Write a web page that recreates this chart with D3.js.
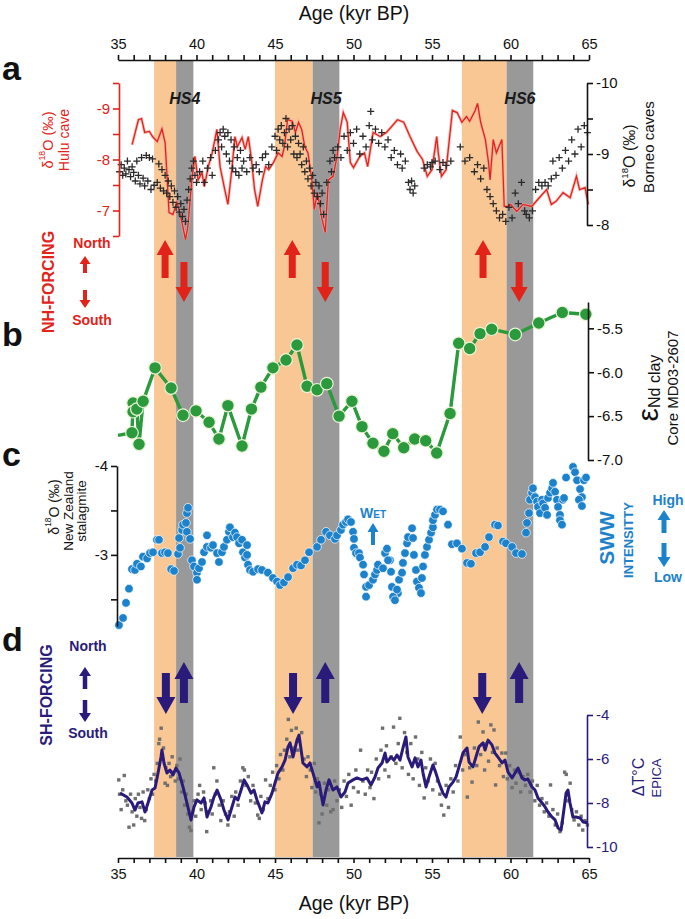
<!DOCTYPE html>
<html>
<head>
<meta charset="utf-8">
<script src="https://cdn.jsdelivr.net/npm/d3@7"></script>
<style>
  body { margin: 0; background: #fff; }
  text { font-family: "Liberation Sans", Arial, sans-serif; }
</style>
</head>
<body>
<script>
// ---- data ----
var orangeBands = [[37.3, 38.7], [45.0, 47.4], [56.9, 59.75]];
var grayBands = [[38.7, 39.8], [47.4, 49.1], [59.75, 61.45]];
var hsLabels = ["HS4", "HS5", "HS6"];

var nhArrows = [[38.0, "up"], [39.2, "down"], [46.1, "up"], [48.2, "down"], [58.25, "up"], [60.55, "down"]];
var shArrows = [[38.05, "down"], [39.2, "up"], [46.15, "down"], [48.2, "up"], [58.2, "down"], [60.55, "up"]];

var hulu = [[35.9,-8.29],[36.3,-8.78],[36.5,-8.8],[36.7,-8.53],[37.0,-8.55],[37.2,-8.45],[37.5,-8.35],[37.8,-8.6],[38.0,-8.33],[38.1,-7.8],[38.25,-6.96],[38.5,-6.92],[38.75,-7.16],[38.95,-6.95],[39.3,-6.43],[39.45,-6.69],[39.7,-7.6],[39.9,-8.06],[40.1,-7.6],[40.35,-7.74],[40.5,-7.47],[40.75,-7.86],[41.0,-8.13],[41.3,-8.59],[41.5,-7.86],[41.8,-7.41],[42.0,-7.12],[42.25,-7.8],[42.45,-8.45],[42.6,-8.25],[42.9,-8.43],[43.1,-8.2],[43.3,-8.45],[43.5,-8.0],[43.7,-7.41],[43.9,-7.08],[44.2,-7.6],[44.4,-7.86],[44.6,-7.8],[44.9,-7.94],[45.2,-8.13],[45.45,-8.06],[45.6,-8.25],[45.8,-8.78],[46.1,-8.75],[46.3,-8.53],[46.5,-8.73],[46.7,-8.59],[46.9,-8.25],[47.1,-8.13],[47.35,-7.6],[47.5,-7.02],[47.7,-7.35],[48.0,-6.82],[48.2,-6.57],[48.4,-7.6],[48.7,-7.67],[48.95,-8.06],[49.15,-8.59],[49.35,-8.92],[49.6,-8.73],[49.8,-7.94],[50.0,-7.84],[50.4,-8.06],[50.7,-8.13],[50.9,-7.86],[51.25,-8.53],[51.7,-8.45],[52.1,-8.53],[52.8,-8.78],[53.2,-8.73],[53.6,-8.45],[54.05,-8.16],[54.4,-8.0],[54.7,-7.67],[55.0,-7.8],[55.3,-8.45],[55.4,-8.13],[55.6,-7.67],[55.9,-7.8],[56.3,-8.96],[56.6,-8.92],[56.9,-8.73],[57.2,-8.84],[57.4,-8.75],[57.75,-8.96],[57.9,-9.1],[58.1,-8.73],[58.4,-8.39],[58.6,-7.94],[58.7,-7.6],[58.9,-8.39],[59.1,-8.13],[59.45,-8.39],[59.6,-7.08],[59.8,-7.08],[60.0,-7.12],[60.4,-6.98],[60.8,-7.12],[61.35,-7.08],[61.75,-7.22],[62.3,-7.41],[62.6,-7.12],[62.9,-7.18],[63.35,-7.35],[63.8,-7.25],[64.2,-7.67],[64.4,-7.41],[64.75,-7.45],[64.95,-7.12]];

var borneo = [[35.1,-8.75],[35.2,-8.85],[35.3,-8.7],[35.4,-8.8],[35.5,-8.72],[35.6,-8.9],[35.7,-8.78],[35.8,-8.68],[35.9,-8.82],[36.0,-8.74],[36.1,-8.62],[36.2,-8.9],[36.3,-8.7],[36.4,-8.58],[36.5,-8.95],[36.6,-8.66],[36.7,-8.55],[36.8,-8.98],[36.9,-8.62],[37.0,-8.95],[37.1,-8.5],[37.2,-8.93],[37.3,-8.56],[37.5,-8.6],[37.6,-8.86],[37.7,-8.52],[37.8,-8.78],[37.9,-8.48],[38.0,-8.7],[38.1,-8.45],[38.2,-8.62],[38.3,-8.4],[38.4,-8.55],[38.5,-8.32],[38.6,-8.48],[38.7,-8.25],[38.8,-8.4],[38.9,-8.18],[39.0,-8.3],[39.1,-8.12],[39.2,-8.22],[39.3,-8.05],[39.4,-8.35],[39.5,-8.5],[39.6,-8.65],[39.7,-8.8],[39.8,-8.9],[39.9,-8.7],[40.0,-8.6],[40.2,-8.75],[40.4,-8.9],[40.5,-8.6],[40.7,-8.8],[40.9,-8.95],[41.0,-8.7],[41.2,-9.05],[41.4,-9.2],[41.5,-9.3],[41.6,-9.1],[41.7,-9.35],[41.8,-9.25],[41.9,-9.0],[42.0,-9.3],[42.1,-8.9],[42.2,-9.2],[42.3,-8.8],[42.4,-9.1],[42.5,-8.75],[42.6,-8.95],[42.7,-8.7],[42.8,-9.05],[42.9,-8.8],[43.0,-8.9],[43.2,-8.75],[43.4,-8.95],[43.6,-8.8],[43.8,-8.85],[44.0,-8.75],[44.2,-8.95],[44.4,-9.0],[44.6,-8.85],[44.8,-9.1],[45.0,-9.25],[45.1,-9.05],[45.2,-9.35],[45.3,-9.2],[45.4,-9.4],[45.5,-9.15],[45.6,-9.3],[45.7,-9.5],[45.8,-9.1],[45.9,-9.35],[46.0,-9.2],[46.1,-9.4],[46.2,-9.0],[46.3,-9.25],[46.4,-8.95],[46.5,-9.15],[46.6,-9.0],[46.7,-8.85],[46.8,-9.1],[46.9,-8.75],[47.0,-8.9],[47.1,-8.65],[47.2,-8.8],[47.3,-8.55],[47.4,-8.7],[47.5,-8.45],[47.6,-8.6],[47.7,-8.4],[47.8,-8.55],[47.9,-8.3],[48.0,-8.45],[48.1,-8.15],[48.3,-8.6],[48.5,-8.9],[48.6,-8.75],[48.7,-9.05],[48.8,-8.95],[49.0,-9.1],[49.2,-8.95],[49.4,-9.25],[49.6,-9.05],[49.8,-9.3],[50.0,-9.15],[50.2,-9.35],[50.4,-9.0],[50.6,-9.25],[50.8,-9.1],[51.0,-9.4],[51.1,-9.6],[51.2,-9.2],[51.4,-9.35],[51.6,-9.15],[51.8,-9.3],[52.0,-9.1],[52.2,-9.2],[52.4,-8.95],[52.6,-9.05],[52.8,-8.85],[53.0,-9.0],[53.1,-8.8],[53.3,-8.9],[53.5,-8.6],[53.6,-8.5],[53.7,-8.62],[53.8,-8.45],[53.9,-8.55],[54.5,-8.8],[54.7,-8.85],[54.9,-8.82],[55.0,-8.88],[55.2,-8.9],[55.5,-8.78],[55.7,-8.88],[55.9,-8.84],[56.2,-8.9],[56.8,-9.1],[57.1,-8.9],[57.4,-8.95],[57.7,-8.75],[57.9,-8.85],[58.1,-8.65],[58.3,-8.8],[58.5,-8.5],[58.7,-8.4],[58.9,-8.3],[59.1,-8.2],[59.3,-8.1],[59.5,-8.15],[59.7,-8.05],[59.9,-8.25],[60.1,-8.1],[60.3,-8.45],[60.5,-8.3],[60.7,-8.6],[60.9,-8.2],[61.0,-8.15],[61.2,-8.1],[61.4,-8.2],[61.6,-8.5],[61.8,-8.6],[62.0,-8.55],[62.2,-8.6],[62.4,-8.55],[62.6,-8.65],[62.7,-8.9],[62.9,-8.7],[63.1,-8.95],[63.3,-8.8],[63.5,-9.05],[63.7,-8.9],[63.9,-9.2],[64.1,-9.0],[64.3,-9.35],[64.5,-9.1],[64.7,-9.4],[64.9,-9.3]];

var epsNd = [[35.0,-6.72],[35.89,-6.69],[35.96,-6.35],[35.96,-6.45],[36.2,-6.42],[36.34,-6.82],[36.6,-6.33],[37.36,-5.95],[38.38,-6.18],[39.14,-6.49],[39.97,-6.44],[40.8,-6.57],[41.43,-6.76],[42.0,-6.38],[42.9,-6.84],[43.5,-6.42],[44.1,-6.17],[44.87,-5.95],[45.7,-5.86],[46.4,-5.69],[47.04,-6.16],[47.68,-6.2],[48.3,-6.13],[49.08,-6.5],[49.9,-6.33],[50.54,-6.62],[51.24,-6.81],[51.94,-6.9],[52.5,-6.7],[53.2,-6.86],[53.9,-6.76],[54.6,-6.78],[55.3,-6.92],[56.15,-6.47],[56.7,-5.67],[57.4,-5.73],[58.06,-5.56],[58.8,-5.51],[60.3,-5.57],[61.8,-5.44],[63.3,-5.32],[64.8,-5.34]];

var nzStalagmite = [[35.06,-2.21],[35.32,-2.29],[35.51,-2.46],[35.70,-2.62],[35.89,-2.84],[36.08,-2.83],[36.21,-2.90],[36.46,-2.87],[36.59,-2.98],[36.85,-2.96],[37.04,-3.02],[37.23,-3.03],[37.48,-3.17],[37.61,-3.17],[37.80,-3.02],[37.99,-3.03],[38.18,-3.02],[38.38,-2.84],[38.57,-2.82],[38.82,-3.01],[38.95,-3.08],[38.89,-3.19],[39.08,-3.28],[39.14,-3.34],[39.33,-3.36],[39.39,-3.47],[39.46,-3.53],[39.39,-3.26],[39.59,-3.18],[39.71,-2.94],[39.84,-2.87],[40.03,-2.80],[40.03,-2.72],[40.16,-2.85],[40.35,-2.92],[40.48,-3.03],[40.67,-3.09],[40.67,-3.22],[40.92,-3.08],[41.05,-3.11],[41.31,-3.02],[41.43,-2.92],[41.62,-3.03],[41.75,-3.09],[41.94,-3.17],[42.07,-3.26],[42.13,-3.31],[42.32,-3.20],[42.45,-3.25],[42.58,-3.20],[42.71,-3.13],[42.90,-3.17],[42.96,-3.03],[43.09,-2.97],[43.22,-3.11],[43.22,-3.00],[43.28,-2.89],[43.41,-2.83],[43.60,-2.81],[43.92,-2.84],[44.17,-2.83],[44.55,-2.80],[44.87,-2.74],[45.13,-2.70],[45.32,-2.66],[45.57,-2.69],[45.83,-2.75],[46.15,-2.85],[46.40,-2.89],[46.66,-2.88],[46.91,-2.94],[47.17,-3.03],[47.68,-3.09],[47.93,-3.17],[48.25,-3.26],[48.50,-3.22],[48.82,-3.18],[48.95,-3.22],[49.20,-3.28],[49.33,-3.34],[49.52,-3.37],[49.65,-3.40],[49.84,-3.37],[49.97,-3.26],[50.03,-3.18],[50.03,-3.08],[50.16,-3.02],[50.35,-3.02],[50.41,-2.97],[50.61,-2.89],[50.67,-2.78],[50.80,-2.64],[50.80,-2.53],[50.99,-2.66],[51.24,-2.72],[51.37,-2.78],[51.50,-2.83],[51.56,-2.89],[51.88,-2.85],[52.01,-3.02],[52.13,-3.07],[52.32,-2.94],[52.39,-2.81],[52.45,-2.64],[52.64,-2.53],[52.83,-2.57],[52.20,-2.94],[52.52,-2.53],[52.64,-2.49],[52.77,-2.61],[52.90,-2.72],[53.09,-2.80],[53.15,-2.91],[53.28,-3.02],[53.41,-3.13],[53.47,-3.20],[53.73,-3.30],[53.79,-3.19],[53.85,-3.00],[53.98,-2.83],[54.04,-2.70],[54.17,-2.63],[54.30,-2.57],[54.36,-2.74],[54.43,-2.87],[54.55,-3.00],[54.68,-3.09],[54.81,-3.17],[54.94,-3.25],[55.06,-3.31],[55.06,-3.39],[55.19,-3.45],[55.32,-3.51],[55.51,-3.51],[55.70,-3.49],[56.02,-3.34],[56.27,-3.12],[56.59,-3.13],[56.91,-3.07],[57.23,-2.91],[57.48,-2.90],[57.80,-3.02],[58.06,-3.03],[58.38,-3.09],[58.63,-3.20],[59.01,-3.34],[59.20,-3.33],[59.52,-3.15],[59.71,-3.13],[60.10,-3.09],[60.35,-3.02],[60.73,-3.01],[60.99,-3.25],[61.05,-3.36],[61.18,-3.47],[61.24,-3.62],[61.37,-3.70],[61.43,-3.75],[61.56,-3.65],[61.69,-3.60],[61.75,-3.54],[61.88,-3.47],[62.01,-3.62],[62.07,-3.58],[62.20,-3.53],[62.33,-3.45],[62.39,-3.64],[62.52,-3.70],[62.65,-3.75],[62.71,-3.81],[62.84,-3.71],[62.96,-3.62],[63.03,-3.54],[63.15,-3.45],[63.15,-3.39],[63.28,-3.34],[63.34,-3.62],[63.41,-3.64],[63.54,-3.87],[63.98,-3.99],[64.11,-3.93],[64.24,-3.84],[64.43,-3.74],[64.55,-3.65],[64.36,-3.62],[64.55,-3.55],[64.68,-3.84],[64.81,-3.87]];

var epicaSmooth = [[35.13,-7.55],[35.57,-7.73],[35.89,-8.0],[36.08,-8.32],[36.27,-8.0],[36.53,-7.95],[36.72,-8.41],[36.91,-8.0],[37.17,-7.41],[37.36,-7.32],[37.55,-6.64],[37.74,-5.91],[37.80,-5.59],[37.93,-6.18],[38.12,-6.64],[38.31,-6.5],[38.50,-6.73],[38.69,-6.41],[38.89,-6.64],[39.14,-7.27],[39.39,-8.0],[39.65,-8.77],[39.84,-8.18],[40.03,-7.86],[40.29,-8.0],[40.48,-7.77],[40.67,-8.64],[40.92,-8.18],[41.11,-7.73],[41.31,-7.41],[41.56,-7.86],[41.75,-8.32],[42.01,-8.77],[42.26,-8.18],[42.45,-7.73],[42.64,-7.86],[42.90,-7.27],[43.03,-6.95],[43.22,-7.18],[43.47,-7.55],[43.66,-7.41],[43.85,-7.86],[44.17,-8.45],[44.36,-7.95],[44.55,-8.0],[44.81,-7.55],[45.00,-7.09],[45.19,-6.64],[45.45,-6.36],[45.64,-6.05],[45.83,-5.45],[45.96,-5.27],[46.15,-5.91],[46.40,-5.14],[46.53,-4.91],[46.78,-6.18],[47.04,-6.36],[47.23,-6.18],[47.42,-6.64],[47.68,-7.27],[47.80,-7.05],[48.06,-8.09],[48.25,-7.41],[48.44,-6.95],[48.69,-7.41],[48.95,-7.27],[49.20,-7.73],[49.46,-7.5],[49.65,-7.09],[49.97,-6.95],[50.22,-6.86],[50.54,-6.95],[50.86,-6.86],[51.11,-7.18],[51.37,-6.82],[51.56,-6.41],[51.82,-6.18],[52.01,-5.73],[52.13,-6.14],[52.39,-5.91],[52.58,-6.05],[52.77,-5.82],[52.96,-6.05],[53.15,-5.5],[53.34,-5.0],[53.47,-5.91],[53.73,-6.36],[53.92,-5.95],[54.11,-6.36],[54.30,-6.05],[54.43,-6.64],[54.62,-7.27],[54.81,-6.82],[55.06,-6.27],[55.25,-6.64],[55.45,-7.09],[55.70,-7.55],[55.89,-7.73],[56.08,-7.27],[56.34,-7.05],[56.53,-6.82],[56.72,-6.36],[56.97,-5.73],[57.23,-5.5],[57.36,-6.14],[57.61,-6.36],[57.80,-5.91],[57.99,-5.45],[58.25,-5.27],[58.38,-5.59],[58.57,-5.14],[58.82,-5.36],[59.01,-5.73],[59.20,-5.91],[59.46,-6.18],[59.65,-6.05],[59.84,-6.59],[60.10,-6.86],[60.29,-6.64],[60.48,-6.41],[60.73,-6.86],[60.92,-6.95],[61.11,-6.91],[61.37,-7.27],[61.56,-7.41],[61.75,-7.77],[62.01,-8.0],[62.20,-8.18],[62.39,-8.41],[62.65,-8.64],[62.84,-8.77],[63.03,-9.14],[63.22,-9.23],[63.34,-8.64],[63.54,-7.55],[63.66,-7.41],[63.79,-8.0],[63.98,-8.64],[64.17,-8.64],[64.43,-8.68],[64.62,-8.86],[64.9,-8.9]];

var epicaRaw = [[35.05,-6.95],[35.1,-7.6],[35.2,-8.3],[35.3,-7.4],[35.4,-6.75],[35.5,-7.9],[35.6,-8.1],[35.7,-9.1],[35.8,-7.6],[35.9,-8.4],[36.0,-9.0],[36.1,-7.8],[36.2,-8.6],[36.3,-7.6],[36.4,-8.2],[36.5,-8.7],[36.6,-7.5],[36.7,-8.8],[36.8,-8.3],[36.9,-7.4],[37.0,-7.8],[37.1,-6.9],[37.2,-7.6],[37.3,-6.7],[37.4,-7.0],[37.5,-6.2],[37.6,-5.3],[37.65,-5.1],[37.75,-4.6],[37.8,-6.0],[37.9,-5.5],[38.0,-7.1],[38.05,-6.4],[38.15,-7.2],[38.25,-6.2],[38.35,-6.8],[38.45,-5.9],[38.55,-6.6],[38.65,-7.0],[38.75,-6.3],[38.85,-6.9],[38.95,-6.0],[39.05,-7.5],[39.15,-7.0],[39.25,-8.1],[39.35,-7.6],[39.45,-8.5],[39.55,-9.1],[39.65,-9.25],[39.75,-8.4],[39.85,-7.9],[39.95,-8.6],[40.1,-7.6],[40.2,-7.2],[40.3,-8.3],[40.45,-7.5],[40.55,-8.0],[40.65,-9.3],[40.75,-8.4],[40.9,-7.9],[41.0,-8.5],[41.1,-6.4],[41.2,-7.6],[41.3,-7.0],[41.45,-8.1],[41.55,-8.8],[41.7,-7.9],[41.85,-8.5],[42.0,-9.0],[42.1,-8.4],[42.25,-7.7],[42.4,-8.6],[42.5,-7.5],[42.65,-8.1],[42.8,-7.0],[42.95,-6.4],[43.05,-6.5],[43.15,-7.2],[43.3,-6.8],[43.45,-7.9],[43.6,-7.2],[43.75,-8.0],[43.9,-8.55],[44.0,-8.7],[44.1,-7.7],[44.25,-8.3],[44.4,-6.95],[44.55,-7.8],[44.7,-7.2],[44.85,-6.6],[45.0,-7.4],[45.1,-6.3],[45.25,-6.9],[45.35,-5.8],[45.5,-6.5],[45.6,-5.6],[45.75,-5.1],[45.85,-4.2],[45.95,-5.9],[46.05,-4.7],[46.2,-5.5],[46.35,-4.6],[46.45,-5.6],[46.55,-5.2],[46.7,-4.8],[46.85,-6.0],[47.0,-6.8],[47.1,-5.9],[47.25,-6.5],[47.35,-7.3],[47.5,-6.2],[47.6,-7.5],[47.7,-6.9],[47.8,-8.9],[47.9,-7.6],[48.0,-8.5],[48.15,-7.1],[48.3,-8.1],[48.4,-7.4],[48.55,-8.4],[48.7,-8.3],[48.8,-7.0],[48.95,-7.9],[49.1,-7.4],[49.25,-8.2],[49.4,-7.0],[49.55,-7.7],[49.7,-6.7],[49.85,-8.1],[50.0,-7.3],[50.15,-6.5],[50.3,-7.5],[50.45,-5.6],[50.6,-7.0],[50.75,-7.6],[50.9,-6.5],[51.05,-7.3],[51.15,-6.6],[51.3,-7.8],[51.45,-6.0],[51.6,-6.9],[51.75,-5.6],[51.85,-4.6],[52.0,-6.5],[52.1,-5.4],[52.25,-6.8],[52.4,-5.9],[52.55,-4.55],[52.7,-6.2],[52.85,-5.3],[52.95,-4.15],[53.1,-6.4],[53.25,-4.8],[53.4,-5.7],[53.5,-6.7],[53.65,-5.3],[53.8,-6.9],[53.95,-5.0],[54.1,-6.0],[54.2,-7.2],[54.35,-5.7],[54.5,-7.77],[54.6,-6.4],[54.75,-7.0],[54.9,-6.0],[55.05,-7.4],[55.2,-6.2],[55.35,-7.0],[55.5,-7.6],[55.6,-8.1],[55.75,-8.55],[55.9,-7.2],[56.05,-8.2],[56.2,-6.9],[56.35,-7.5],[56.5,-6.3],[56.65,-7.0],[56.8,-5.0],[56.95,-6.5],[57.1,-5.8],[57.25,-7.73],[57.4,-6.4],[57.55,-7.05],[57.7,-5.5],[57.85,-6.3],[57.95,-4.32],[58.1,-5.8],[58.25,-4.77],[58.35,-6.5],[58.45,-5.3],[58.6,-6.1],[58.75,-4.45],[58.85,-5.7],[58.95,-4.68],[59.05,-7.18],[59.15,-5.5],[59.3,-6.3],[59.45,-5.73],[59.55,-6.8],[59.7,-5.73],[59.8,-6.9],[59.95,-6.3],[60.1,-7.3],[60.25,-6.5],[60.35,-7.1],[60.5,-6.6],[60.65,-7.5],[60.8,-6.8],[60.95,-7.2],[61.1,-6.7],[61.25,-7.5],[61.4,-7.0],[61.55,-7.9],[61.7,-7.2],[61.85,-8.1],[62.0,-7.8],[62.15,-8.4],[62.3,-8.0],[62.45,-8.6],[62.55,-7.18],[62.7,-8.3],[62.85,-9.0],[63.0,-8.5],[63.15,-9.3],[63.3,-8.9],[63.45,-6.6],[63.55,-6.7],[63.65,-7.9],[63.8,-7.1],[63.9,-8.3],[64.05,-8.77],[64.2,-8.4],[64.35,-9.0],[64.5,-8.6],[64.6,-9.23],[64.75,-8.8],[64.9,-9.0]];

var ageTicks = d3.range(35, 66, 1);

// ---- colours ----
var RED = "#e2231a", GREEN = "#2a9a3c", BLUE = "#1c82cc", NAVY = "#2a1b7a";

var W = 685, H = 919;
var svg = d3.select("body").append("svg").attr("width", W).attr("height", H);

var x = d3.scaleLinear().domain([35, 65]).range([118, 589]);
var yHulu = d3.scaleLinear().domain([-9.5, -6.5]).range([83, 236]);
var yBorneo = d3.scaleLinear().domain([-10, -8]).range([83, 225]);
var yNd = d3.scaleLinear().domain([-5.2, -7.0]).range([302, 460]);
var yNZ = d3.scaleLinear().domain([-4, -2.2]).range([466, 626]);
var yEpica = d3.scaleLinear().domain([-4, -10]).range([715, 847]);

// bands
var bandTop = 61, bandBottom = 857;
svg.selectAll(".ob").data(orangeBands).enter().append("rect")
  .attr("x", d => x(d[0])).attr("width", d => x(d[1]) - x(d[0]))
  .attr("y", bandTop).attr("height", bandBottom - bandTop).attr("fill", "#f9c794");
svg.selectAll(".gb").data(grayBands).enter().append("rect")
  .attr("x", d => x(d[0])).attr("width", d => x(d[1]) - x(d[0]))
  .attr("y", bandTop).attr("height", bandBottom - bandTop).attr("fill", "#999999");

svg.selectAll(".hs").data(hsLabels).enter().append("text")
  .attr("x", (d, i) => (x(grayBands[i][0]) + x(grayBands[i][1])) / 2)
  .attr("y", 104).attr("text-anchor", "middle")
  .attr("font-size", 16).attr("font-weight", "bold").attr("font-style", "italic")
  .attr("fill", "#1a1a1a").text(d => d);

// arrows
function arrowPath(cx, tip, tail, sw, hw, hl) {
  var s = tail > tip ? 1 : -1;
  var neck = tip + s * hl;
  return "M" + (cx - sw / 2) + "," + tail + "L" + (cx - sw / 2) + "," + neck +
    "L" + (cx - hw / 2) + "," + neck + "L" + cx + "," + tip +
    "L" + (cx + hw / 2) + "," + neck + "L" + (cx + sw / 2) + "," + neck +
    "L" + (cx + sw / 2) + "," + tail + "Z";
}

svg.selectAll(".nha").data(nhArrows).enter().append("path")
  .attr("d", d => d[1] == "up" ? arrowPath(x(d[0]), 240, 278, 7, 17, 15) : arrowPath(x(d[0]), 302, 262, 7, 17, 15))
  .attr("fill", RED);
svg.selectAll(".sha").data(shArrows).enter().append("path")
  .attr("d", d => d[1] == "up" ? arrowPath(x(d[0]), 662, 703, 8, 19, 17) : arrowPath(x(d[0]), 714, 673, 8, 19, 17))
  .attr("fill", NAVY);

// ---- panel a ----
svg.append("path").datum(hulu)
  .attr("d", d3.line().x(d => x(d[0])).y(d => yHulu(d[1])))
  .attr("fill", "none").attr("stroke", "#f3a3a0").attr("stroke-width", 3).attr("opacity", 0.7);
svg.append("path").datum(hulu)
  .attr("d", d3.line().x(d => x(d[0])).y(d => yHulu(d[1])))
  .attr("fill", "none").attr("stroke", RED).attr("stroke-width", 1.3);

svg.selectAll(".bx").data(borneo).enter().append("path")
  .attr("transform", d => "translate(" + x(d[0]) + "," + yBorneo(d[1]) + ")")
  .attr("d", "M-3.5,0H3.5M0,-3.5V3.5")
  .attr("stroke", "#2a2a2a").attr("stroke-width", 1.3).attr("fill", "none");

// ---- panel b ----
svg.append("path").datum(epsNd)
  .attr("d", d3.line().x(d => x(d[0])).y(d => yNd(d[1])))
  .attr("fill", "none").attr("stroke", GREEN).attr("stroke-width", 3.4);
svg.selectAll(".nd").data(epsNd.filter(d => d[0] > 35.05)).enter().append("circle")
  .attr("cx", d => x(d[0])).attr("cy", d => yNd(d[1])).attr("r", 6.3)
  .attr("fill", GREEN).attr("stroke", "#eef3d8").attr("stroke-width", 1.2);

// ---- panel c ----
svg.selectAll(".nz").data(nzStalagmite).enter().append("circle")
  .attr("cx", d => x(d[0])).attr("cy", d => yNZ(d[1])).attr("r", 4.3)
  .attr("fill", BLUE).attr("stroke", "#ffffff").attr("stroke-width", 0.7);

// ---- panel d ----
svg.selectAll(".er").data(epicaRaw).enter().append("rect")
  .attr("x", d => x(d[0]) - 1.7).attr("y", d => yEpica(d[1]) - 1.7)
  .attr("width", 3.4).attr("height", 3.4).attr("fill", "#6f6f6f");
svg.append("path").datum(epicaSmooth)
  .attr("d", d3.line().x(d => x(d[0])).y(d => yEpica(d[1])))
  .attr("fill", "none").attr("stroke", NAVY).attr("stroke-width", 3).attr("stroke-linejoin", "round");

// ---- axes ----
function styleAxis(g, color, fs) {
  g.selectAll("path, line").attr("stroke", color).attr("stroke-width", 1.6);
  g.selectAll("text").attr("fill", color).attr("font-size", fs)
    .attr("font-family", "'Noto Sans', 'Liberation Sans', sans-serif");
}
var ageFmt = d => d % 5 === 0 ? String(d) : "";
svg.append("g").attr("transform", "translate(0,60)")
  .call(d3.axisTop(x).tickValues(ageTicks).tickFormat(ageFmt).tickSize(5).tickSizeOuter(0).tickPadding(6))
  .call(g => styleAxis(g, "#111", 14.5));
svg.append("g").attr("transform", "translate(0,858)")
  .call(d3.axisBottom(x).tickValues(ageTicks).tickFormat(ageFmt).tickSize(5).tickSizeOuter(0).tickPadding(6))
  .call(g => styleAxis(g, "#111", 14.5));

var intFmt = d => Number.isInteger(d) ? String(d) : "";
svg.append("g").attr("transform", "translate(119,0)")
  .call(d3.axisLeft(yHulu).tickValues([-9.5, -9, -8.5, -8, -7.5, -7, -6.5]).tickFormat(intFmt).tickSize(6).tickSizeOuter(0))
  .call(g => styleAxis(g, RED, 15));
svg.append("g").attr("transform", "translate(587,0)")
  .call(d3.axisRight(yBorneo).tickValues([-10, -9.5, -9, -8.5, -8]).tickFormat(intFmt).tickSize(6).tickSizeOuter(0))
  .call(g => styleAxis(g, "#111", 15));
svg.append("g").attr("transform", "translate(588,0)")
  .call(d3.axisRight(yNd).tickValues([-5.5, -6, -6.5, -7]).tickFormat(d => d.toFixed(1)).tickSize(6).tickSizeOuter(0))
  .call(g => styleAxis(g, "#111", 15));
svg.append("g").attr("transform", "translate(117,0)")
  .call(d3.axisLeft(yNZ).tickValues([-4, -3.5, -3, -2.5]).tickFormat(intFmt).tickSize(6).tickSizeOuter(0))
  .call(g => styleAxis(g, "#111", 15));
svg.append("g").attr("transform", "translate(587,0)")
  .call(d3.axisRight(yEpica).tickValues([-4, -6, -8, -10]).tickFormat(d => String(d)).tickSize(6).tickSizeOuter(0))
  .call(g => styleAxis(g, NAVY, 15));

// ---- text ----
function txt(xp, yp, s, o) {
  var t = svg.append("text").attr("x", xp).attr("y", yp)
    .attr("font-size", o.fs).attr("fill", o.color || "#111")
    .attr("text-anchor", o.anchor || "middle")
    .attr("dominant-baseline", o.base || "auto")
    .attr("font-family", o.family || "'Noto Sans', 'Liberation Sans', sans-serif");
  if (o.bold) t.attr("font-weight", "bold");
  if (o.rot) t.attr("transform", "rotate(-90," + xp + "," + yp + ")");
  t.text(s);
  return t;
}
function d18O(xp, yp, fs, color) {
  var t = svg.append("text").attr("x", xp).attr("y", yp).attr("font-size", fs).attr("fill", color)
    .attr("text-anchor", "middle").attr("dominant-baseline", "middle")
    .attr("font-family", "'Noto Sans', 'Liberation Sans', sans-serif")
    .attr("transform", "rotate(-90," + xp + "," + yp + ")");
  t.append("tspan").text("\u03b4");
  t.append("tspan").attr("font-size", fs * 0.6).attr("dy", -fs * 0.4).text("18");
  t.append("tspan").attr("dy", fs * 0.4).text("O (\u2030)");
}

txt(354, 20, "Age (kyr BP)", {fs: 19.5, family: "'Liberation Sans', Arial, sans-serif"});
txt(354, 910, "Age (kyr BP)", {fs: 19.5, family: "'Liberation Sans', Arial, sans-serif"});

var letterOpt = {fs: 34, bold: true, anchor: "start", family: "'Liberation Sans', Arial, sans-serif"};
txt(2, 80, "a", letterOpt);
txt(2, 346, "b", letterOpt);
txt(2, 466, "c", letterOpt);
txt(2, 651, "d", letterOpt);

// a labels
d18O(49, 140, 14.5, RED);
txt(65, 140, "Hulu cave", {fs: 14, color: RED, rot: true, base: "middle"});
txt(50, 282, "NH-FORCING", {fs: 16, color: RED, bold: true, rot: true, base: "middle"});
txt(92, 248, "North", {fs: 14, color: RED, bold: true});
txt(92, 325, "South", {fs: 14, color: RED, bold: true});
svg.append("path").attr("d", arrowPath(85, 256, 273, 4, 11, 8)).attr("fill", RED);
svg.append("path").attr("d", arrowPath(85, 308, 290, 4, 11, 8)).attr("fill", RED);
d18O(631, 156, 16, "#111");
txt(650, 147, "Borneo caves", {fs: 15, rot: true, base: "middle"});

// b labels
var eps = svg.append("text").attr("x", 650).attr("y", 388).attr("text-anchor", "middle")
  .attr("dominant-baseline", "middle").attr("fill", "#111")
  .attr("font-family", "'Noto Sans', 'Liberation Sans', sans-serif")
  .attr("transform", "rotate(-90,650,388)");
eps.append("tspan").attr("font-size", 30).text("\u03b5");
eps.append("tspan").attr("font-size", 16).attr("dy", 6).text("Nd clay");
txt(674, 388, "Core MD03-2607", {fs: 15, rot: true, base: "middle"});

// c labels
d18O(55, 507, 14, "#111");
txt(69, 511, "New Zealand", {fs: 13.5, rot: true, base: "middle"});
txt(82, 511, "stalagmite", {fs: 13.5, rot: true, base: "middle"});
var wet = svg.append("text").attr("x", 373).attr("y", 518).attr("text-anchor", "middle")
  .attr("fill", BLUE).attr("font-weight", "bold")
  .attr("font-family", "'Noto Sans', 'Liberation Sans', sans-serif");
wet.append("tspan").attr("font-size", 14).text("W");
wet.append("tspan").attr("font-size", 10).text("ET");
svg.append("path").attr("d", arrowPath(373, 523, 545, 4, 11, 9)).attr("fill", BLUE);
txt(608, 538, "SWW", {fs: 21, color: BLUE, bold: true, rot: true, base: "middle"});
txt(630, 540, "INTENSITTY", {fs: 13, color: BLUE, bold: true, rot: true, base: "middle"});
txt(668, 505, "High", {fs: 14, color: BLUE, bold: true});
txt(668, 582, "Low", {fs: 14, color: BLUE, bold: true});
svg.append("path").attr("d", arrowPath(664, 510, 533, 5, 13, 10)).attr("fill", BLUE);
svg.append("path").attr("d", arrowPath(664, 567, 543, 5, 13, 10)).attr("fill", BLUE);

// d labels
txt(48, 695, "SH-FORCING", {fs: 16, color: NAVY, bold: true, rot: true, base: "middle"});
txt(88, 651, "North", {fs: 14, color: NAVY, bold: true});
txt(88, 738, "South", {fs: 14, color: NAVY, bold: true});
svg.append("path").attr("d", arrowPath(85, 667, 689, 4.5, 12, 9)).attr("fill", NAVY);
svg.append("path").attr("d", arrowPath(85, 722, 700, 4.5, 12, 9)).attr("fill", NAVY);
txt(640, 777, "\u0394T\u00b0C", {fs: 16, color: NAVY, rot: true, base: "middle"});
txt(658, 778, "EPICA", {fs: 13, color: NAVY, rot: true, base: "middle"});
</script>
</body>
</html>
